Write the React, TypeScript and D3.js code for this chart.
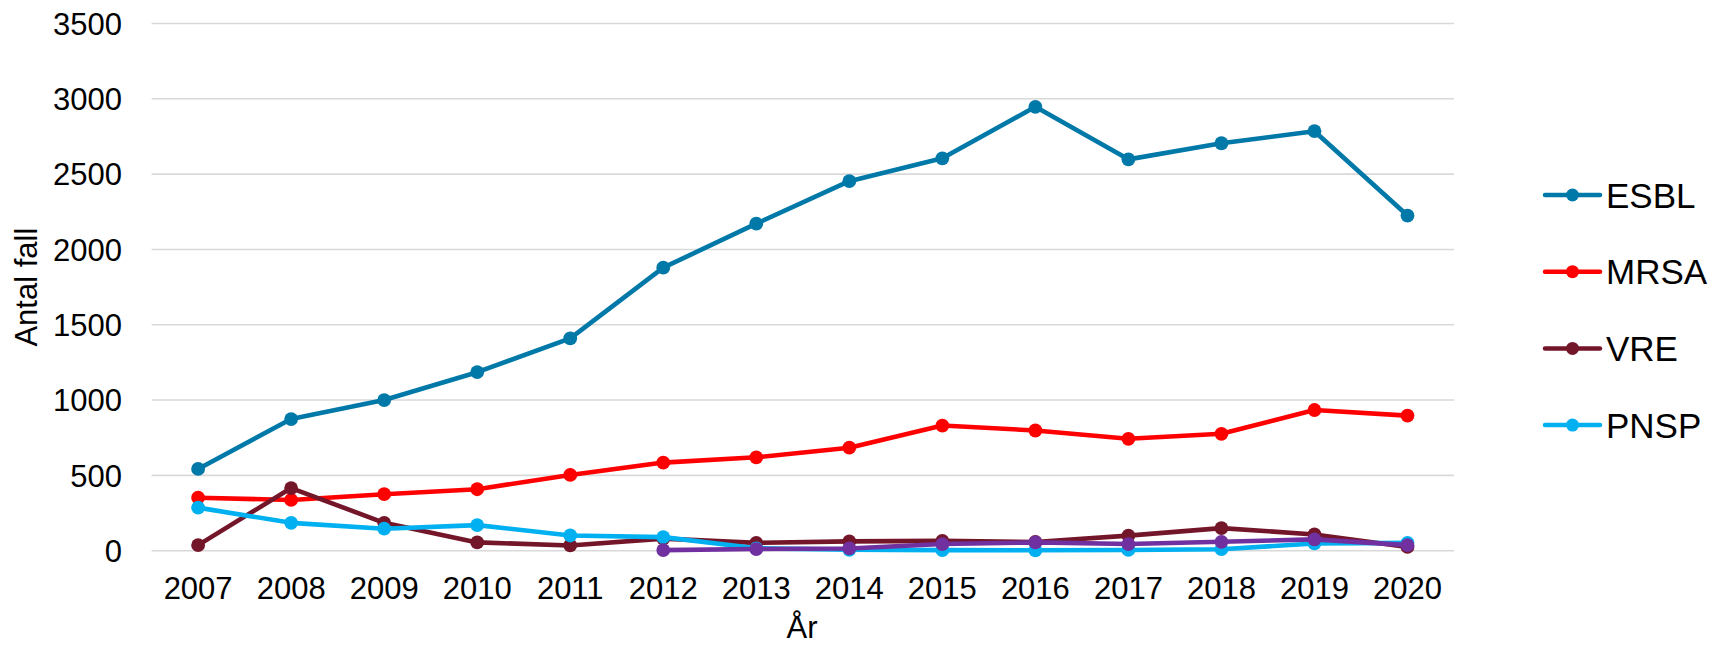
import React from 'react'
import * as d3 from 'd3'

// Antal fall per år (ESBL, MRSA, VRE, PNSP + en lila serie utan legend)
const years = ['2007', '2008', '2009', '2010', '2011', '2012', '2013', '2014', '2015', '2016', '2017', '2018', '2019', '2020']
const esbl = [543, 874, 1000, 1185, 1410, 1879, 2171, 2453, 2605, 2947, 2598, 2705, 2785, 2225]
const mrsa = [352, 337, 375, 408, 503, 585, 620, 684, 831, 798, 743, 776, 934, 897]
const vre = [37, 416, 185, 55, 35, 80, 52, 62, 65, 58, 100, 150, 108, 25]
const pnsp = [286, 185, 146, 170, 101, 90, 16, 6, 4, 3, 5, 10, 48, 52]
const other: (number | null)[] = [null, null, null, null, null, 4, 11, 15, 44, 55, 44, 59, 75, 37]
const yTicks = [0, 500, 1000, 1500, 2000, 2500, 3000, 3500]

const series = [
  { name: 'ESBL', color: '#0078A8', values: esbl, legend: true },
  { name: 'MRSA', color: '#FF0000', values: mrsa, legend: true },
  { name: 'VRE', color: '#74162A', values: vre, legend: true },
  { name: 'PNSP', color: '#00B0F0', values: pnsp, legend: true },
  { name: 'Övrigt', color: '#7030A0', values: other, legend: false },
]

const W = 1727
const H = 646
const font = 'Arial, "Liberation Sans", sans-serif'

export default function App() {
  const x = d3.scaleBand<string>().domain(years).range([151.6, 1454]).padding(0)
  const cx = (yr: string) => (x(yr) ?? 0) + x.bandwidth() / 2
  const y = d3.scaleLinear().domain([0, 3500]).range([550.7, 23.5])

  const line = d3
    .line<number | null>()
    .defined((d) => d != null)
    .x((_, i) => cx(years[i]))
    .y((d) => y(d as number))

  const legendItems = series.filter((s) => s.legend)

  return (
    <svg width={W} height={H} style={{ position: 'absolute', left: 0, top: 0, background: '#fff' }} fontFamily={font}>
      {/* grille */}
      {yTicks.map((t) => (
        <line key={t} x1={151.6} x2={1454} y1={y(t)} y2={y(t)} stroke="#D9D9D9" strokeWidth={1.6} />
      ))}
      {/* axe y */}
      {yTicks.map((t) => (
        <text key={t} x={122} y={y(t)} dy="0.36em" textAnchor="end" fontSize={31} fill="#000">
          {t}
        </text>
      ))}
      {/* axe x */}
      {years.map((yr) => (
        <text key={yr} x={cx(yr)} y={599.3} textAnchor="middle" fontSize={31} fill="#000">
          {yr}
        </text>
      ))}
      <text x={802} y={638} textAnchor="middle" fontSize={31} fill="#000">
        År
      </text>
      <text
        transform={`translate(37, ${(y(0) + y(3500)) / 2}) rotate(-90)`}
        textAnchor="middle"
        fontSize={31}
        fill="#000"
      >
        Antal fall
      </text>

      {/* séries */}
      {series.map((s) => (
        <g key={s.name}>
          <path d={line(s.values) ?? ''} fill="none" stroke={s.color} strokeWidth={4.6} strokeLinejoin="round" />
          {s.values.map((v, i) =>
            v == null ? null : <circle key={i} cx={cx(years[i])} cy={y(v)} r={6.9} fill={s.color} />
          )}
        </g>
      ))}

      {/* légende */}
      {legendItems.map((s, i) => {
        const ly = 195 + i * 76.7
        return (
          <g key={s.name}>
            <line x1={1545} x2={1600} y1={ly} y2={ly} stroke={s.color} strokeWidth={4.5} strokeLinecap="round" />
            <circle cx={1572.5} cy={ly} r={6.5} fill={s.color} />
            <text x={1606} y={ly} dy="0.36em" fontSize={35} fill="#000">
              {s.name}
            </text>
          </g>
        )
      })}
    </svg>
  )
}
